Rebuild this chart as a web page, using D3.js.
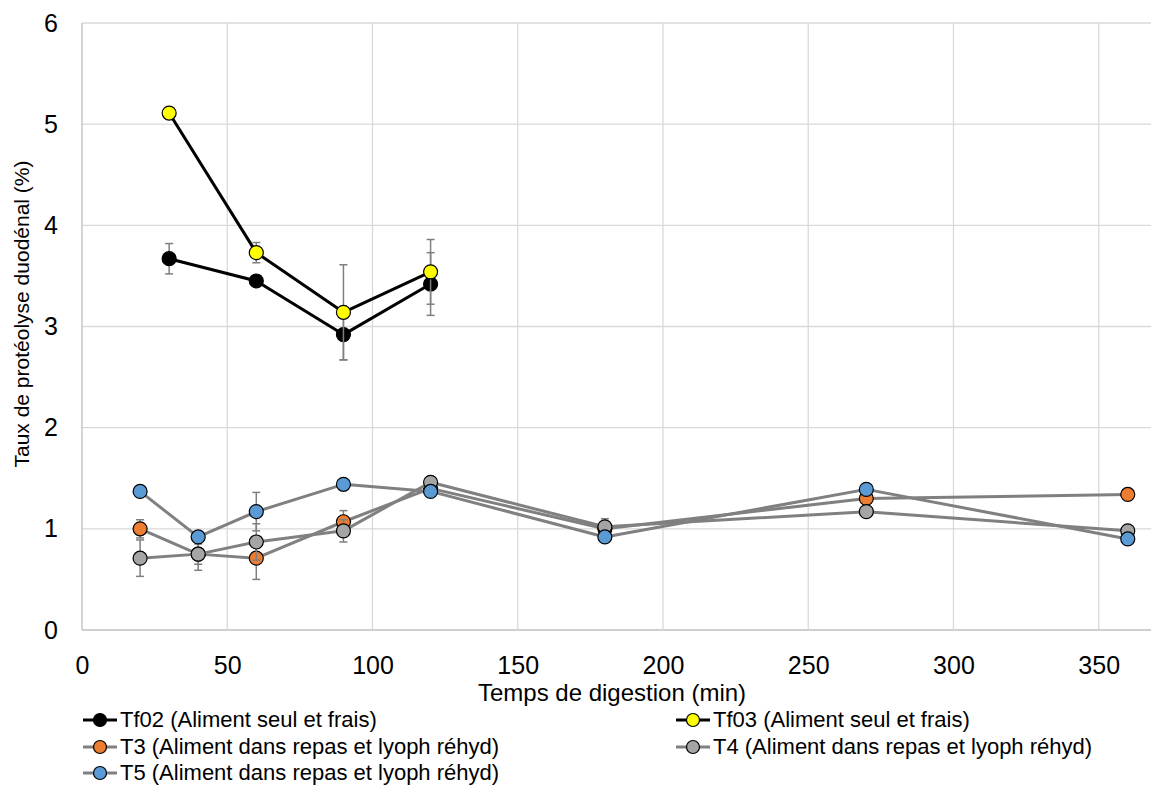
<!DOCTYPE html>
<html>
<head>
<meta charset="utf-8">
<script src="https://cdnjs.cloudflare.com/ajax/libs/d3/7.8.5/d3.min.js"></script>
<style>
html,body{margin:0;padding:0;background:#fff;}
svg{display:block;font-family:"Liberation Sans",Arial,sans-serif;}
</style>
</head>
<body>
<svg id="chart" width="1151" height="786"></svg>
<script>
// ---- data ----
const xTicks = [0, 50, 100, 150, 200, 250, 300, 350];
const yTicks = [0, 1, 2, 3, 4, 5, 6];

const tf02X = [30, 60, 90, 120];
const tf02Y = [3.67, 3.45, 2.92, 3.42];
const tf02Err = [0.15, 0.03, 0.25, 0.31];

const tf03X = [30, 60, 90, 120];
const tf03Y = [5.11, 3.73, 3.14, 3.54];
const tf03Err = [0.0, 0.10, 0.47, 0.32];

const t3X = [20, 40, 60, 90, 120, 180, 270, 360];
const t3Y = [1.00, 0.75, 0.71, 1.07, 1.40, 1.00, 1.30, 1.34];
const t3Err = [0.09, 0.10, 0.21, 0.11, 0.05, 0.05, 0.03, 0.02];

const t4X = [20, 40, 60, 90, 120, 180, 270, 360];
const t4Y = [0.71, 0.75, 0.87, 0.98, 1.46, 1.02, 1.17, 0.98];
const t4Err = [0.18, 0.16, 0.18, 0.11, 0.05, 0.08, 0.03, 0.03];

const t5X = [20, 40, 60, 90, 120, 180, 270, 360];
const t5Y = [1.37, 0.92, 1.17, 1.44, 1.37, 0.92, 1.39, 0.90];
const t5Err = [0.02, 0.03, 0.19, 0.03, 0.03, 0.03, 0.03, 0.03];

const seriesNames = [
  "Tf02 (Aliment seul et frais)",
  "Tf03 (Aliment seul et frais)",
  "T3 (Aliment dans repas et lyoph réhyd)",
  "T4 (Aliment dans repas et lyoph réhyd)",
  "T5 (Aliment dans repas et lyoph réhyd)"
];
const markerColors = ["#000000", "#FFFF00", "#ED7D31", "#A5A5A5", "#5B9BD5"];
const lineColors = ["#000000", "#000000", "#808080", "#808080", "#808080"];

const xTitle = "Temps de digestion (min)";
const yTitle = "Taux de protéolyse duodénal (%)";

const series = [
  {x: tf02X, y: tf02Y, e: tf02Err},
  {x: tf03X, y: tf03Y, e: tf03Err},
  {x: t3X, y: t3Y, e: t3Err},
  {x: t4X, y: t4Y, e: t4Err},
  {x: t5X, y: t5Y, e: t5Err}
].map((s, i) => ({
  name: seriesNames[i], fill: markerColors[i], stroke: lineColors[i],
  pts: s.x.map((xv, j) => ({x: xv, y: s.y[j], e: s.e[j]}))
}));

// ---- layout ----
const svg = d3.select("#chart");
const pLeft = 82, pTop = 23, pBottom = 630, pRight = 1151;
const x = d3.scaleLinear().domain([0, 368]).range([pLeft, pRight]);
const y = d3.scaleLinear().domain([0, 6]).range([pBottom, pTop]);

// grid
const grid = svg.append("g");
grid.selectAll("line.h").data(yTicks).join("line")
  .attr("x1", pLeft).attr("x2", pRight)
  .attr("y1", d => y(d)).attr("y2", d => y(d))
  .attr("stroke", d => d === 0 ? "#bfbfbf" : "#d9d9d9").attr("stroke-width", 1.3);
grid.selectAll("line.v").data(xTicks).join("line")
  .attr("x1", d => x(d)).attr("x2", d => x(d))
  .attr("y1", pTop).attr("y2", pBottom)
  .attr("stroke", d => d === 0 ? "#bfbfbf" : "#d9d9d9").attr("stroke-width", 1.3);

// axes (labels only)
const xAxis = svg.append("g").attr("transform", `translate(0,${pBottom})`)
  .call(d3.axisBottom(x).tickValues(xTicks).tickFormat(d3.format("d")).tickSize(0).tickPadding(26));
xAxis.select(".domain").remove();
xAxis.selectAll("text").attr("font-size", 25).attr("fill", "#000")
  .attr("font-family", "Liberation Sans, Arial, sans-serif");

const yAxis = svg.append("g").attr("transform", `translate(${pLeft},0)`)
  .call(d3.axisLeft(y).tickValues(yTicks).tickFormat(d3.format("d")).tickSize(0).tickPadding(24));
yAxis.select(".domain").remove();
yAxis.selectAll("text").attr("font-size", 25).attr("fill", "#000")
  .attr("font-family", "Liberation Sans, Arial, sans-serif");

// titles
svg.append("text").attr("x", 612).attr("y", 701).attr("text-anchor", "middle")
  .attr("font-size", 24).text(xTitle);
svg.append("text").attr("transform", `translate(29,314) rotate(-90)`)
  .attr("text-anchor", "middle").attr("font-size", 21).text(yTitle);

// series
const line = d3.line().x(d => x(d.x)).y(d => y(d.y));
const plot = svg.append("g");
series.forEach(s => {
  const g = plot.append("g");
  const eb = g.append("g").attr("stroke", "#7f7f7f").attr("stroke-width", 1.5);
  s.pts.filter(p => p.e > 0).forEach(p => {
    eb.append("line").attr("x1", x(p.x)).attr("x2", x(p.x))
      .attr("y1", y(p.y - p.e)).attr("y2", y(p.y + p.e));
    [p.y - p.e, p.y + p.e].forEach(v => {
      eb.append("line").attr("x1", x(p.x) - 4).attr("x2", x(p.x) + 4)
        .attr("y1", y(v)).attr("y2", y(v));
    });
  });
  g.append("path").datum(s.pts).attr("d", line)
    .attr("fill", "none").attr("stroke", s.stroke).attr("stroke-width", 3)
    .attr("stroke-linejoin", "round");
  g.selectAll("circle").data(s.pts).join("circle")
    .attr("cx", d => x(d.x)).attr("cy", d => y(d.y)).attr("r", 7)
    .attr("fill", s.fill).attr("stroke", "#000").attr("stroke-width", 1.2);
});

// legend
const legPos = [
  {lx: 100, ly: 720}, {lx: 693, ly: 720},
  {lx: 100, ly: 747}, {lx: 693, ly: 747},
  {lx: 100, ly: 773}
];
const leg = svg.append("g");
series.forEach((s, i) => {
  const p = legPos[i];
  const g = leg.append("g").attr("transform", `translate(${p.lx},${p.ly})`);
  g.append("line").attr("x1", -17).attr("x2", 17).attr("y1", 0).attr("y2", 0)
    .attr("stroke", s.stroke).attr("stroke-width", 3);
  g.append("circle").attr("r", 6.5).attr("fill", s.fill).attr("stroke", "#000").attr("stroke-width", 1.2);
  g.append("text").attr("x", 20).attr("y", 0).attr("dy", "0.34em")
    .attr("font-size", 22).text(s.name);
});
</script>
</body>
</html>
